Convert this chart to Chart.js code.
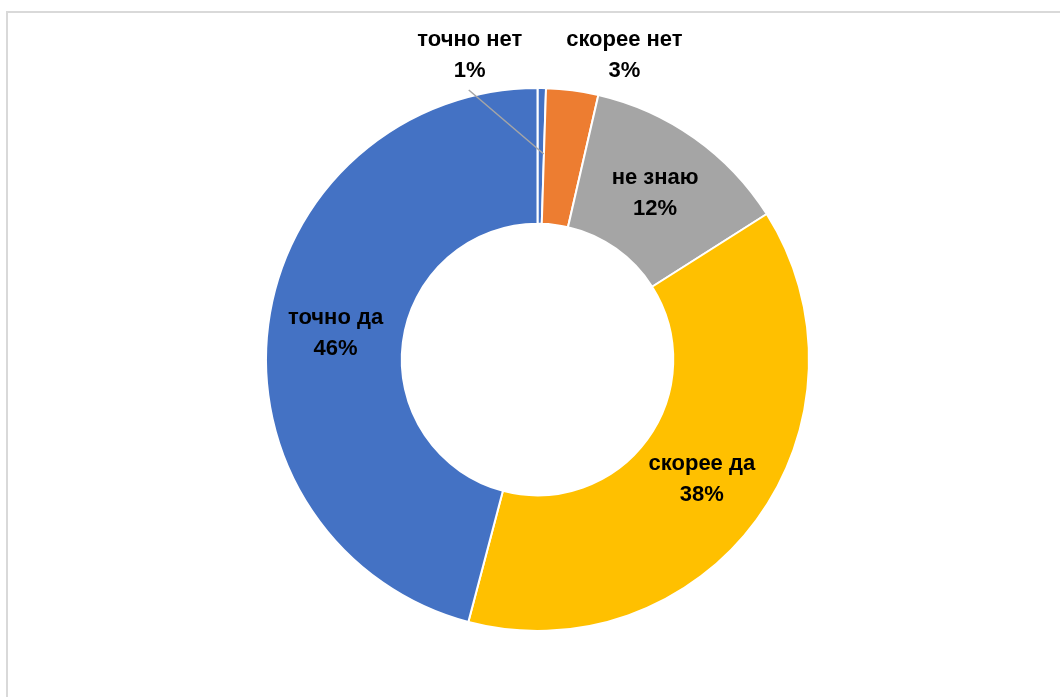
<!DOCTYPE html>
<html>
<head>
<meta charset="utf-8">
<script src="https://cdn.jsdelivr.net/npm/chart.js@4"></script>
<style>
  html, body { margin:0; padding:0; background:#fff; overflow:hidden; }
  #wrap { position:relative; width:1060px; height:697px; }
  #frame { position:absolute; left:6px; top:11px; width:1100px; height:740px; border:2px solid #d9d9d9; box-sizing:border-box; }
  #chart { position:absolute; left:0; top:0; }
</style>
</head>
<body>
<div id="wrap">
  <div id="frame"></div>
  <canvas id="chart" width="1060" height="697"></canvas>
</div>
<script>
// ── Answer shares (%) ──
const LABELS = ['точно нет', 'скорее нет', 'не знаю', 'скорее да', 'точно да'];
const VALUES = [0.5, 3.1, 12.4, 38.1, 45.9];
const COLORS = ['#4472C4', '#ED7D31', '#A5A5A5', '#FFC000', '#4472C4'];

// small slices get their label above the ring, the rest sit inside the band
const OUTSIDE = [true, true, false, false, false];

const FONT = 'bold 22px "Liberation Sans", Arial, sans-serif';
const LINE_H = 31;

function pctText(v) { return Math.round(v) + '%'; }

const labelPlugin = {
  id: 'sliceLabels',
  afterDatasetsDraw(chart) {
    const ctx = chart.ctx;
    const meta = chart.getDatasetMeta(0);
    ctx.save();
    ctx.font = FONT;
    ctx.fillStyle = '#000';
    ctx.textAlign = 'center';
    ctx.textBaseline = 'middle';
    meta.data.forEach((arc, i) => {
      const p = arc.getProps(['x','y','startAngle','endAngle','innerRadius','outerRadius'], true);
      const mid = (p.startAngle + p.endAngle) / 2;
      let cx, cy;
      if (!OUTSIDE[i]) {
        const r = (p.innerRadius + p.outerRadius) / 2;
        cx = p.x + Math.cos(mid) * r;
        cy = p.y + Math.sin(mid) * r;
      } else {
        const ox = p.x + Math.cos(mid) * p.outerRadius;
        const oy = p.y + Math.sin(mid) * p.outerRadius;
        if (i === 0) {
          // pulled to the left, with a leader line back to the slice
          cx = ox - 72; cy = oy - 33;
          ctx.strokeStyle = '#a6a6a6';
          ctx.lineWidth = 1.5;
          ctx.beginPath();
          ctx.moveTo(cx - 1, cy + 35);
          ctx.lineTo(ox + 2, oy + 66);
          ctx.stroke();
        } else {
          cx = ox + 52; cy = oy - 35;
        }
      }
      ctx.fillText(LABELS[i], cx, cy - LINE_H / 2);
      ctx.fillText(pctText(VALUES[i]), cx, cy + LINE_H / 2);
    });
    ctx.restore();
  }
};

new Chart(document.getElementById('chart'), {
  type: 'doughnut',
  data: {
    labels: LABELS,
    datasets: [{ data: VALUES, backgroundColor: COLORS, borderColor: '#fff', borderWidth: 2 }]
  },
  options: {
    responsive: false,
    animation: false,
    cutout: '50%',
    layout: { padding: { left: 265, right: 250, top: 87, bottom: 65 } },
    plugins: { legend: { display: false }, tooltip: { enabled: false } }
  },
  plugins: [labelPlugin]
});
</script>
</body>
</html>
